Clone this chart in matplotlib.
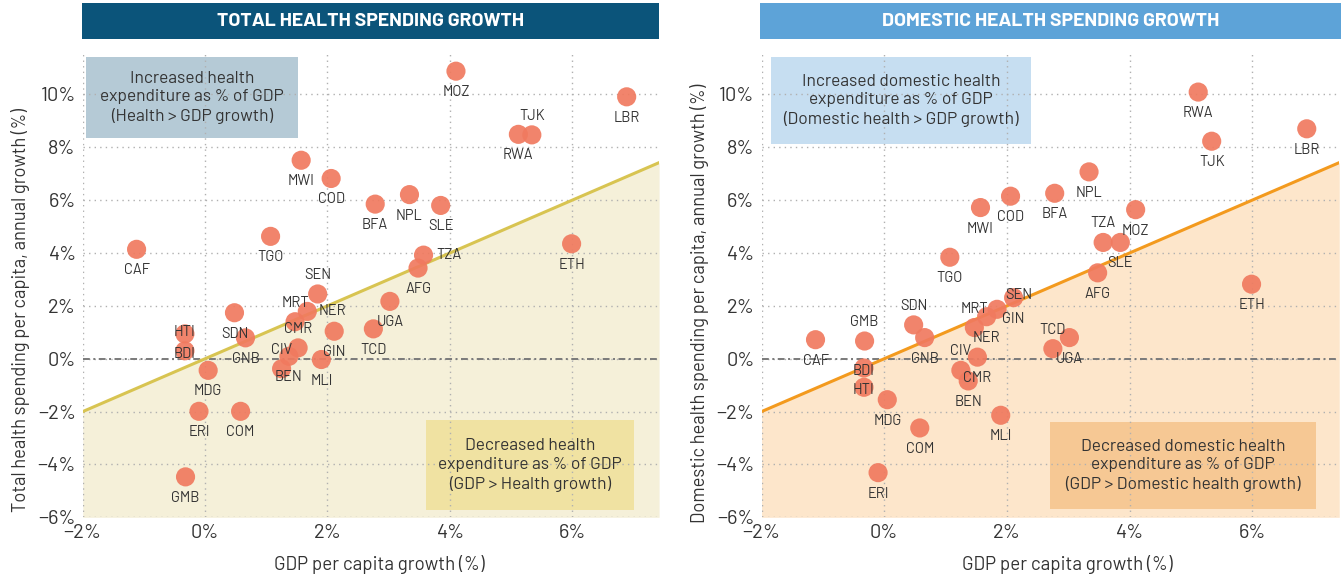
import matplotlib
matplotlib.use("Agg")
import matplotlib.pyplot as plt
from matplotlib import font_manager
from matplotlib.patches import Rectangle
from matplotlib.ticker import FuncFormatter

# GDP per capita growth (%), shared by both panels
countries = ["AFG", "BDI", "BEN", "BFA", "CAF", "CIV", "CMR", "COD", "COM", "ERI",
             "ETH", "GIN", "GMB", "GNB", "HTI", "LBR", "MDG", "MLI", "MOZ", "MRT",
             "MWI", "NER", "NPL", "RWA", "SDN", "SEN", "SLE", "TCD", "TGO", "TJK",
             "TZA", "UGA"]
gdp_growth = [3.48, -0.33, 1.37, 2.78, -1.12, 1.25, 1.52, 2.06, 0.58, -0.10,
              5.99, 2.11, -0.32, 0.66, -0.33, 6.89, 0.05, 1.90, 4.10, 1.47,
              1.57, 1.67, 3.34, 5.12, 0.48, 1.84, 3.85, 2.75, 1.07, 5.34,
              3.57, 3.02]
total_growth = [3.43, 0.30, 0.09, 5.85, 4.14, -0.38, 0.41, 6.82, -1.99, -1.99,
                4.35, 1.04, -4.47, 0.79, 0.94, 9.91, -0.44, -0.03, 10.88, 1.40,
                7.51, 1.79, 6.21, 8.49, 1.74, 2.45, 5.80, 1.13, 4.63, 8.47,
                3.92, 2.17]
domestic_growth = [3.25, -0.35, -0.84, 6.26, 0.72, -0.44, 0.06, 6.15, -2.62, -4.31,
                   2.82, 2.31, 0.67, 0.80, -1.08, 8.70, -1.55, -2.14, 5.64, 1.18,
                   5.72, 1.59, 7.07, 10.09, 1.28, 1.87, 4.40, 0.38, 3.84, 8.23,
                   4.40, 0.80]

x_ticks = [-2, 0, 2, 4, 6]
y_ticks = [-6, -4, -2, 0, 2, 4, 6, 8, 10]

# where each country code sits relative to its dot (default: below)
total_label_pos = {"TJK": "a", "SEN": "a", "MRT": "a", "CMR": "a", "CIV": "a",
                   "TZA": "r", "NER": "r", "HTI": "c_up", "BDI": "c"}
domestic_label_pos = {"GMB": "a", "SDN": "a", "MRT": "a", "CIV": "a", "TCD": "a",
                      "TZA": "a", "BDI": "c", "HTI": "c", "SEN": "ur"}
OFFSETS = {"b": (0, -21), "a": (0, 19), "r": (25, 0), "c": (0, -3),
           "c_up": (0, 2), "ur": (22, 14)}


def pick_font(*names):
    have = {f.name for f in font_manager.fontManager.ttflist}
    for n in names:
        if n in have:
            return n
    return "DejaVu Sans"


DIN = [pick_font("Barlow", "Barlow Semi Condensed", "Fira Sans"), "DejaVu Sans"]
TXT = "#333333"
DOT = "#F07A5F"


def pct(v, _):
    return f"{int(v)}%".replace("-", "\u2212")


def draw_panel(ax, yvals, label_pos, line_col, shade_col, ylabel,
               top_box, top_col, top_text, bot_box, bot_col, bot_text,
               ylab_xy, xlab_x):
    xlim = (-2, 7.42)
    ylim = (-6, 11.55)
    ax.set_xlim(xlim)
    ax.set_ylim(ylim)

    # area where health spending grew slower than GDP
    ax.fill_between(xlim, ylim[0], xlim, color=shade_col, lw=0, zorder=0)
    ax.axline((0, 0), slope=1, color=line_col, lw=2.2, zorder=2)
    ax.axhline(0, color="#7a7a7a", lw=1.4, ls=(0, (3.5, 1.8, 1, 1.8)), zorder=1.8)

    for (x0, y0, x1, y1), col, text in ((top_box, top_col, top_text),
                                        (bot_box, bot_col, bot_text)):
        ax.add_patch(Rectangle((x0, y0), x1 - x0, y1 - y0, transform=ax.transAxes,
                               facecolor=col, edgecolor="none", zorder=1))
        ax.text((x0 + x1) / 2, (y0 + y1) / 2, text, transform=ax.transAxes,
                ha="center", va="center", fontsize=12.5, color=TXT,
                family=DIN, linespacing=1.3, zorder=5)

    ax.scatter(gdp_growth, yvals, s=190, color=DOT, alpha=0.92,
               edgecolors="none", zorder=3)
    for c, x, y in zip(countries, gdp_growth, yvals):
        dx, dy = OFFSETS[label_pos.get(c, "b")]
        ax.annotate(c, (x, y), xytext=(dx, dy), textcoords="offset pixels",
                    ha="center", va="center", fontsize=10.5, color=TXT,
                    family=DIN, zorder=4)

    ax.set_xticks(x_ticks)
    ax.set_yticks(y_ticks)
    ax.xaxis.set_major_formatter(FuncFormatter(pct))
    ax.yaxis.set_major_formatter(FuncFormatter(pct))
    ax.tick_params(length=0, labelsize=14.5, labelcolor=TXT, pad=5)
    for lab in ax.get_xticklabels() + ax.get_yticklabels():
        lab.set_family(DIN)
    ax.grid(True, color="#b0b0b0", lw=1.0, ls=(0, (1, 3)))
    for sp in ax.spines.values():
        sp.set_visible(False)

    ax.set_xlabel("GDP per capita growth (%)", fontsize=13.5, color=TXT,
                  family=DIN, va="center")
    ax.xaxis.set_label_coords(xlab_x, -0.1007)
    ax.set_ylabel(ylabel, fontsize=13.2, color=TXT, family=DIN, va="center")
    ax.yaxis.set_label_coords(*ylab_xy)


fig = plt.figure(figsize=(13.41, 5.8), dpi=100)

ax1 = fig.add_axes([0.0617, 0.1081, 0.4298, 0.7997])
ax2 = fig.add_axes([0.5679, 0.1081, 0.4308, 0.7997])

draw_panel(ax1, total_growth, total_label_pos, "#D8C451", "#F5F0D9",
           "Total health spending per capita, annual growth (%)",
           (0.006, 0.818, 0.374, 0.993), "#B5CAD6",
           "Increased health\nexpenditure as % of GDP\n(Health > GDP growth)",
           (0.596, 0.016, 0.957, 0.210), "#F0E2A2",
           "Decreased health\nexpenditure as % of GDP\n(GDP > Health growth)",
           (-0.1088, 0.447), 0.514)
draw_panel(ax2, domestic_growth, domestic_label_pos, "#F39A1E", "#FDE6CB",
           "Domestic health spending per capita, annual growth (%)",
           (0.016, 0.805, 0.467, 0.993), "#C6DEF1",
           "Increased domestic health\nexpenditure as % of GDP\n(Domestic health > GDP growth)",
           (0.500, 0.018, 0.959, 0.206), "#F6C894",
           "Decreased domestic health\nexpenditure as % of GDP\n(GDP > Domestic health growth)",
           (-0.1075, 0.462), 0.530)

# panel headers
for x0, w, col, title in ((0.0612, 0.4305, "#0B547A", "TOTAL HEALTH SPENDING GROWTH"),
                          (0.5667, 0.4333, "#5DA3D8", "DOMESTIC HEALTH SPENDING GROWTH")):
    fig.add_artist(Rectangle((x0, 0.9328), w, 0.0616, transform=fig.transFigure,
                             facecolor=col, edgecolor="none"))
    fig.text(x0 + w / 2, 0.9328 + 0.0308, title, ha="center", va="center",
             color="white", fontsize=14, fontweight="bold", family=DIN)

fig.savefig("out.png", dpi=100)
